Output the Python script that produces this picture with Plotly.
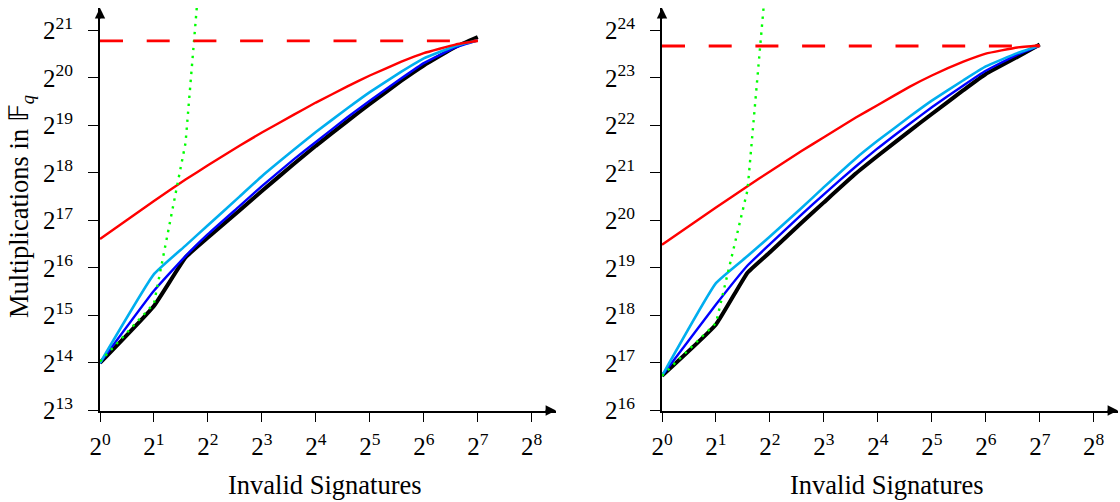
import numpy as np
import plotly.graph_objects as go

# Number of invalid signatures in the batch (x values)
invalid_sigs = [1, 2, 3, 4, 6, 8, 12, 16, 24, 32, 48, 64, 96, 128]

# log2 of the multiplication count, left panel
left_black = [14.0, 15.2, 16.22, 16.64, 17.21, 17.62, 18.18, 18.57, 19.09, 19.45, 19.94, 20.26, 20.65, 20.86]
left_blue = [14.0, 15.52, 16.25, 16.71, 17.3, 17.72, 18.28, 18.65, 19.17, 19.52, 19.99, 20.31, 20.64, 20.79]
left_cyan = [14.0, 15.87, 16.47, 16.9, 17.5, 17.93, 18.48, 18.86, 19.36, 19.7, 20.13, 20.41, 20.67, 20.79]
left_red = [16.61, 17.41, 17.86, 18.16, 18.57, 18.85, 19.22, 19.48, 19.82, 20.05, 20.34, 20.52, 20.7, 20.78]
left_green_x = [1, 2, 3, 4]
left_green = [14.03, 15.25, 18.63, 24.3]
left_bound = 20.78

# log2 of the multiplication count, right panel
right_black = [16.73, 17.81, 18.9, 19.33, 19.95, 20.38, 20.98, 21.36, 21.88, 22.24, 22.74, 23.08, 23.44, 23.7]
right_blue = [16.73, 18.23, 19.05, 19.5, 20.12, 20.55, 21.13, 21.52, 22.03, 22.38, 22.84, 23.15, 23.49, 23.68]
right_cyan = [16.73, 18.68, 19.25, 19.66, 20.26, 20.7, 21.3, 21.68, 22.18, 22.52, 22.95, 23.24, 23.52, 23.68]
right_red = [19.49, 20.27, 20.72, 21.03, 21.46, 21.75, 22.16, 22.43, 22.81, 23.05, 23.34, 23.51, 23.64, 23.68]
right_green_x = [1, 2, 3, 4]
right_green = [16.73, 17.84, 20.64, 26.0]
right_bound = 23.67

# Tick exponents
x_tick_exps = list(range(0, 9))
left_y_tick_exps = list(range(13, 22))
right_y_tick_exps = list(range(16, 25))

FONT = "Liberation Serif"
LOG2 = np.log10(2)
W, H = 1120, 502

fig = go.Figure()


def pow2(vals):
    return [2.0 ** v for v in vals]


def add_panel(xa, ya, black, blue, cyan, red, gx, green, bound):
    common = dict(xaxis=xa, yaxis=ya, mode="lines", showlegend=False, hoverinfo="skip")
    smooth = dict(shape="spline", smoothing=0.35)
    fig.add_trace(go.Scatter(x=invalid_sigs, y=pow2(black), line=dict(color="#000000", width=4, **smooth), **common))
    fig.add_trace(go.Scatter(x=invalid_sigs, y=pow2(blue), line=dict(color="#0000FF", width=2.4, **smooth), **common))
    fig.add_trace(go.Scatter(x=invalid_sigs, y=pow2(cyan), line=dict(color="#00AEEF", width=2.6, **smooth), **common))
    fig.add_trace(go.Scatter(x=invalid_sigs, y=pow2(red), line=dict(color="#FF0000", width=2.4, **smooth), **common))
    fig.add_trace(go.Scatter(x=gx, y=pow2(green), line=dict(color="#00FF00", width=2.4, dash="2.4px,5.6px"), **common))
    fig.add_trace(go.Scatter(x=[invalid_sigs[0], invalid_sigs[-1]], y=pow2([bound, bound]),
                             line=dict(color="#FF0000", width=2.8, dash="23px,23.7px"), **common))


add_panel("x", "y", left_black, left_blue, left_cyan, left_red, left_green_x, left_green, left_bound)
add_panel("x2", "y2", right_black, right_blue, right_cyan, right_red, right_green_x, right_green, right_bound)

x_range = [0, 8.45 * LOG2]
x_tickvals = [2 ** e for e in x_tick_exps]
x_ticktext = [f"2<sup>{e}</sup>" for e in x_tick_exps]

left_dom = [100 / W, 556 / W]
right_dom = [662 / W, 1118 / W]
y_dom = [(H - 410.5) / H, (H - 8) / H]

tick_font = dict(family=FONT, size=25, color="#000000")


def xaxis(dom, anchor, overlay=None):
    d = dict(type="log", range=x_range, tickmode="array", tickvals=x_tickvals,
             showgrid=False, zeroline=False, anchor=anchor, ticklen=10, tickwidth=1.3,
             tickcolor="#000000", automargin=False)
    if overlay:
        d.update(overlaying=overlay, ticks="inside", showticklabels=False, showline=False)
    else:
        d.update(domain=dom, ticks="outside", ticktext=x_ticktext, tickfont=tick_font,
                 showline=True, linecolor="#000000", linewidth=1.8, ticklabelstandoff=3)
    return d


def yaxis(exps, anchor, overlay=None):
    top = exps[0] + 8.47
    d = dict(type="log", range=[exps[0] * LOG2, top * LOG2], tickmode="array",
             tickvals=[2 ** e for e in exps], showgrid=False, zeroline=False, anchor=anchor,
             ticklen=10, tickwidth=1.3, tickcolor="#000000", automargin=False)
    if overlay:
        d.update(overlaying=overlay, ticks="inside", showticklabels=False, showline=False)
    else:
        d.update(domain=y_dom, ticks="outside", ticktext=[f"2<sup>{e}</sup>" for e in exps],
                 tickfont=tick_font, showline=True, linecolor="#000000", linewidth=1.8,
                 ticklabelstandoff=10)
    return d


fig.update_layout(
    width=W, height=H,
    margin=dict(l=0, r=0, t=0, b=0, autoexpand=False),
    paper_bgcolor="white", plot_bgcolor="white",
    font=dict(family=FONT, color="#000000"),
    xaxis=xaxis(left_dom, "y"),
    yaxis=yaxis(left_y_tick_exps, "x"),
    xaxis2=xaxis(right_dom, "y2"),
    yaxis2=yaxis(right_y_tick_exps, "x2"),
    xaxis3=xaxis(left_dom, "y3", overlay="x"),
    yaxis3=yaxis(left_y_tick_exps, "x3", overlay="y"),
    xaxis4=xaxis(right_dom, "y4", overlay="x2"),
    yaxis4=yaxis(right_y_tick_exps, "x4", overlay="y2"),
)

title_font = dict(family=FONT, size=26.5, color="#000000")
annotations = []
for xa, ya in (("x", "y"), ("x2", "y2")):
    # arrow heads at the ends of both axes
    annotations.append(dict(x=1, y=0, xref=f"{xa} domain", yref=f"{ya} domain", text="",
                            showarrow=True, arrowhead=2, arrowsize=1.3, arrowwidth=1.6,
                            arrowcolor="#000000", ax=-12, ay=0))
    annotations.append(dict(x=0, y=1, xref=f"{xa} domain", yref=f"{ya} domain", text="",
                            showarrow=True, arrowhead=2, arrowsize=1.3, arrowwidth=1.6,
                            arrowcolor="#000000", ax=0, ay=12))
    annotations.append(dict(x=0.5 - 3 / 456, y=(H - 485) / H, xref=f"{xa} domain", yref="paper",
                            text="Invalid Signatures", showarrow=False, font=title_font,
                            xanchor="center", yanchor="middle"))

annotations.append(dict(x=21 / W, y=(H - 207) / H, xref="paper", yref="paper",
                        text="Multiplications in 𝔽<sub><i>q</i></sub>", textangle=-90,
                        showarrow=False, font=title_font, xanchor="center", yanchor="middle"))
fig.update_layout(annotations=annotations)

fig.write_html("out.html")
